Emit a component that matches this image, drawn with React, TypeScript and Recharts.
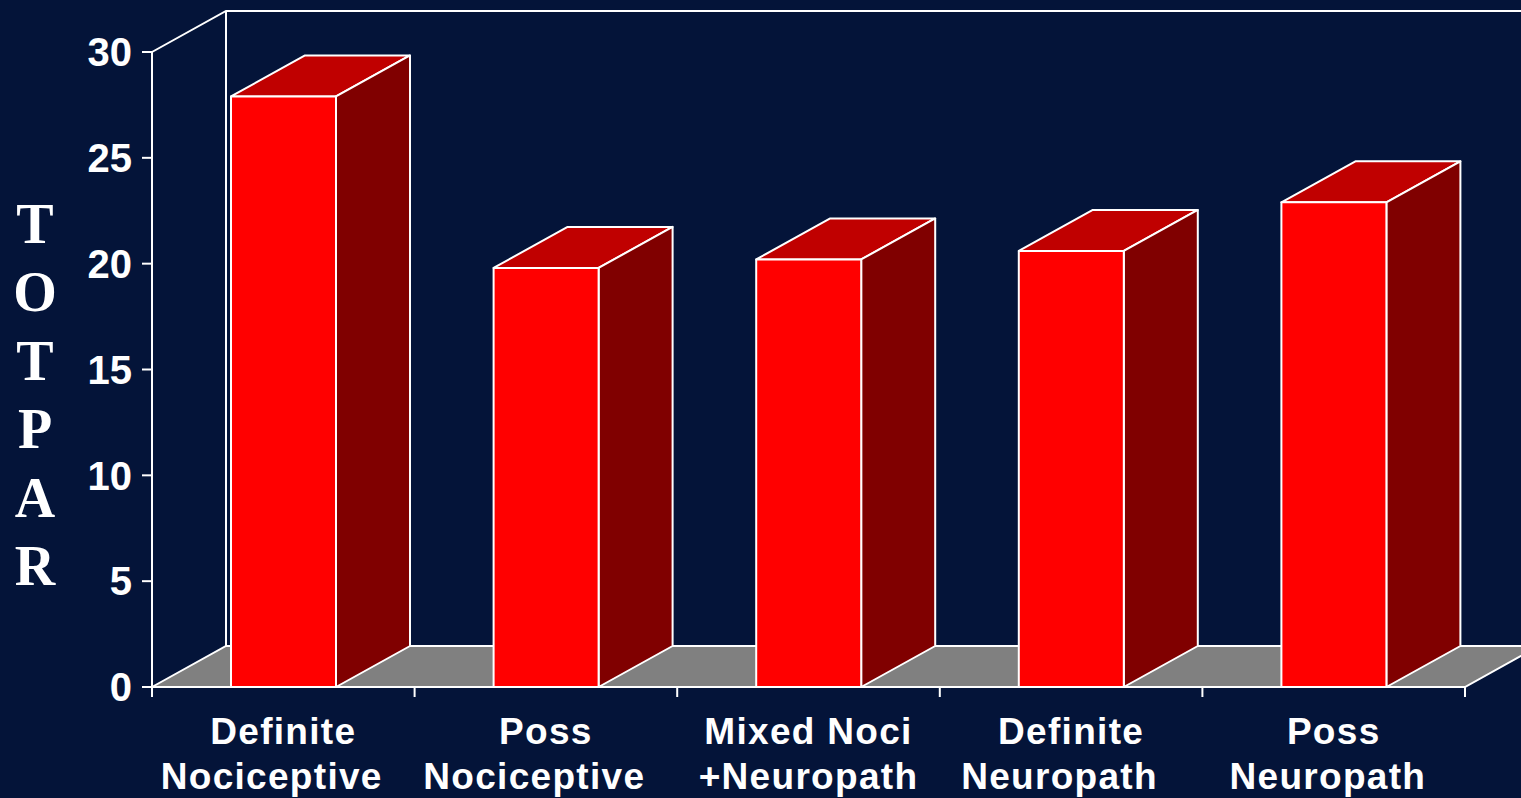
import { BarChart, Bar, XAxis, YAxis, ReferenceArea } from 'recharts'

// TOTPAR score by pain category
const categories = [
  'Definite\nNociceptive  ',
  'Poss\nNociceptive  ',
  'Mixed Noci\n+Neuropath',
  'Definite\nNeuropath  ',
  'Poss\nNeuropath ',
]
const totpar = [27.9, 19.8, 20.2, 20.6, 22.9]
const yTicks = [0, 5, 10, 15, 20, 25, 30]
const axisTitle = ['T', 'O', 'T', 'P', 'A', 'R']

const data = categories.map((name, i) => ({ name, totpar: totpar[i] }))

const BG = '#041439'
const FONT = '"Liberation Sans", Arial, sans-serif'
// depth of the fake 3D projection
const DX = 74
const DY = -41

function Bar3D(props: any) {
  const { x, y, width, height } = props
  if (!width || height == null) return null
  const r = x + width
  const b = y + height
  return (
    <g stroke="#fff" strokeWidth={2} strokeLinejoin="round">
      <polygon points={`${x},${y} ${x + DX},${y + DY} ${r + DX},${y + DY} ${r},${y}`} fill="#C00000" />
      <polygon points={`${r},${y} ${r + DX},${y + DY} ${r + DX},${b + DY} ${r},${b}`} fill="#800000" />
      <rect x={x} y={y} width={width} height={height} fill="#FF0000" />
    </g>
  )
}

// floor and back walls behind the bars
function Backdrop(props: any) {
  const { x, y, width, height } = props
  const left = x
  const right = x + width
  const top = y
  const bottom = y + height
  return (
    <g stroke="#fff" strokeWidth={2} fill="none">
      <polyline points={`${left},${top} ${left + DX},${top + DY} ${right + DX + 200},${top + DY}`} />
      <line x1={left + DX} y1={top + DY} x2={left + DX} y2={bottom + DY} />
      <polygon
        points={`${left},${bottom} ${left + DX},${bottom + DY} ${right + DX},${bottom + DY} ${right},${bottom}`}
        fill="#808080"
      />
    </g>
  )
}

function CategoryTick(props: any) {
  const { x, y, payload, index, visibleTicksCount } = props
  const half = payload.offset || 131.3
  const lines = String(payload.value).split('\n')
  return (
    <g>
      <line x1={x - half} x2={x - half} y1={y} y2={y + 10} stroke="#fff" strokeWidth={2} />
      {index === visibleTicksCount - 1 && (
        <line x1={x + half} x2={x + half} y1={y} y2={y + 10} stroke="#fff" strokeWidth={2} />
      )}
      <text
        textAnchor="middle"
        fill="#fff"
        fontSize={37}
        fontWeight={700}
        fontFamily={FONT}
        letterSpacing={1.3}
        style={{ whiteSpace: 'pre' }}
      >
        {lines.map((l, i) => (
          <tspan key={i} x={x} y={y + 57 + i * 45}>
            {l}
          </tspan>
        ))}
      </text>
    </g>
  )
}

function TitleLabel() {
  return (
    <text
      textAnchor="middle"
      fill="#fff"
      fontSize={56}
      fontWeight={700}
      fontFamily='"Liberation Serif", "Times New Roman", serif'
    >
      {axisTitle.map((c, i) => (
        <tspan key={i} x={35} y={243 + i * 68.4}>
          {c}
        </tspan>
      ))}
    </text>
  )
}

export default function App() {
  return (
    <div style={{ position: 'absolute', left: 0, top: 0, width: 1521, height: 798, background: BG, overflow: 'hidden' }}>
      <BarChart width={1521} height={798} data={data} margin={{ top: 52, right: 56, bottom: 0, left: 0 }}>
        <XAxis
          dataKey="name"
          height={111}
          axisLine={{ stroke: '#fff', strokeWidth: 2 }}
          tickLine={false}
          tickSize={0}
          tickMargin={0}
          interval={0}
          tick={<CategoryTick />}
        />
        <YAxis
          width={152}
          domain={[0, 30]}
          ticks={yTicks}
          interval={0}
          axisLine={{ stroke: '#fff', strokeWidth: 2 }}
          tickLine={{ stroke: '#fff', strokeWidth: 2 }}
          tickSize={10}
          tickMargin={10}
          tick={{ fill: '#fff', fontSize: 40, fontWeight: 700, fontFamily: FONT }}
          label={<TitleLabel />}
        />
        <ReferenceArea y1={0} y2={30} shape={<Backdrop />} ifOverflow="visible" />
        <Bar dataKey="totpar" barSize={105} shape={<Bar3D />} isAnimationActive={false} />
      </BarChart>
    </div>
  )
}
